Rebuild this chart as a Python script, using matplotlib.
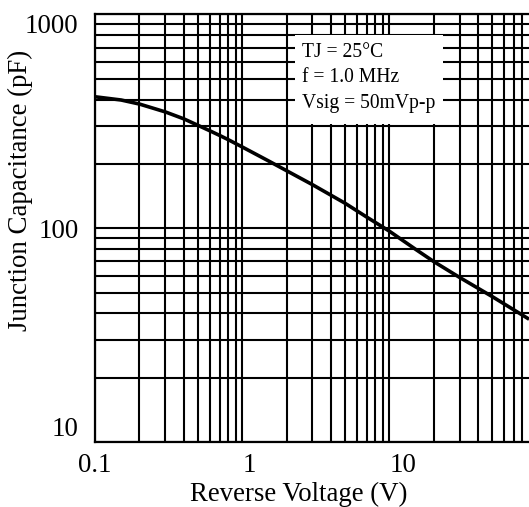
import matplotlib
matplotlib.use("Agg")
import matplotlib.pyplot as plt
from matplotlib.patches import Rectangle
from matplotlib.ticker import LogLocator, NullFormatter

plt.rcParams['font.family'] = ['Liberation Serif', 'DejaVu Serif']

# data
volts = [0.1, 0.15, 0.2, 0.3, 0.4, 0.5, 0.6, 0.7, 0.8, 1.0, 1.5, 2.0, 3.0, 5.0, 7.0, 10.0, 15.0, 20.0, 30.0, 50.0, 87.0]
cap_pf = [412, 398, 381, 350, 325, 303, 286, 272, 260, 240, 207, 186, 160, 131, 113, 97, 80, 70, 59, 48, 38]
x_ticks = [0.1, 1, 10]
x_labels = ['0.1', '1', '10']
y_ticks = [10, 100, 1000]
y_labels = ['10', '100', '1000']
notes = ['TJ = 25\u00b0C', 'f = 1.0 MHz', 'Vsig = 50mVp-p']

fig = plt.figure(figsize=(5.29, 5.07), dpi=100)
ax = fig.add_axes([0.180, 0.1276, 0.820, 0.844])

ax.set_xscale('log')
ax.set_yscale('log')
ax.set_xlim(0.1, 89)
ax.set_ylim(10, 1000)

ax.xaxis.set_minor_locator(LogLocator(base=10, subs=range(2, 10)))
ax.yaxis.set_minor_locator(LogLocator(base=10, subs=range(2, 10)))
ax.xaxis.set_minor_formatter(NullFormatter())
ax.yaxis.set_minor_formatter(NullFormatter())
ax.grid(True, which='both', color='black', linewidth=1.5)
ax.set_axisbelow(True)

ax.plot(volts, cap_pf, color='black', linewidth=2.6, zorder=3)

ax.set_xticks(x_ticks)
ax.set_xticklabels(x_labels)
ax.set_yticks(y_ticks)
ax.set_yticklabels(y_labels)
ax.tick_params(which='both', length=0)
ax.tick_params(axis='x', labelsize=19.4, pad=8)
ax.tick_params(axis='y', labelsize=19.4, pad=12)
xl = ax.get_xticklabels()
xl[1].set_ha('left')
xl[2].set_ha('left')
yl = ax.get_yticklabels()
yl[0].set_va('bottom')
yl[2].set_va('top')

for s in ['left', 'bottom', 'top']:
    ax.spines[s].set_linewidth(1.6)
ax.spines['right'].set_visible(False)

ax.set_xlabel('Reverse Voltage (V)', fontsize=19.4)
ax.xaxis.set_label_coords(0.4697, -0.092)
ax.set_ylabel('Junction Capacitance (pF)', fontsize=19.4)
ax.yaxis.set_label_coords(-0.143, 0.588)

# white note box covering the grid
ax.add_patch(Rectangle((0.4605, 0.743), 0.341, 0.209, transform=ax.transAxes,
                       facecolor='white', edgecolor='none', zorder=4))
for txt, yb in zip(notes, [0.8995, 0.8411, 0.7804]):
    ax.text(0.476, yb, txt, transform=ax.transAxes, fontsize=14.1,
            va='baseline', ha='left', zorder=5)

fig.savefig('out.png', dpi=100)
